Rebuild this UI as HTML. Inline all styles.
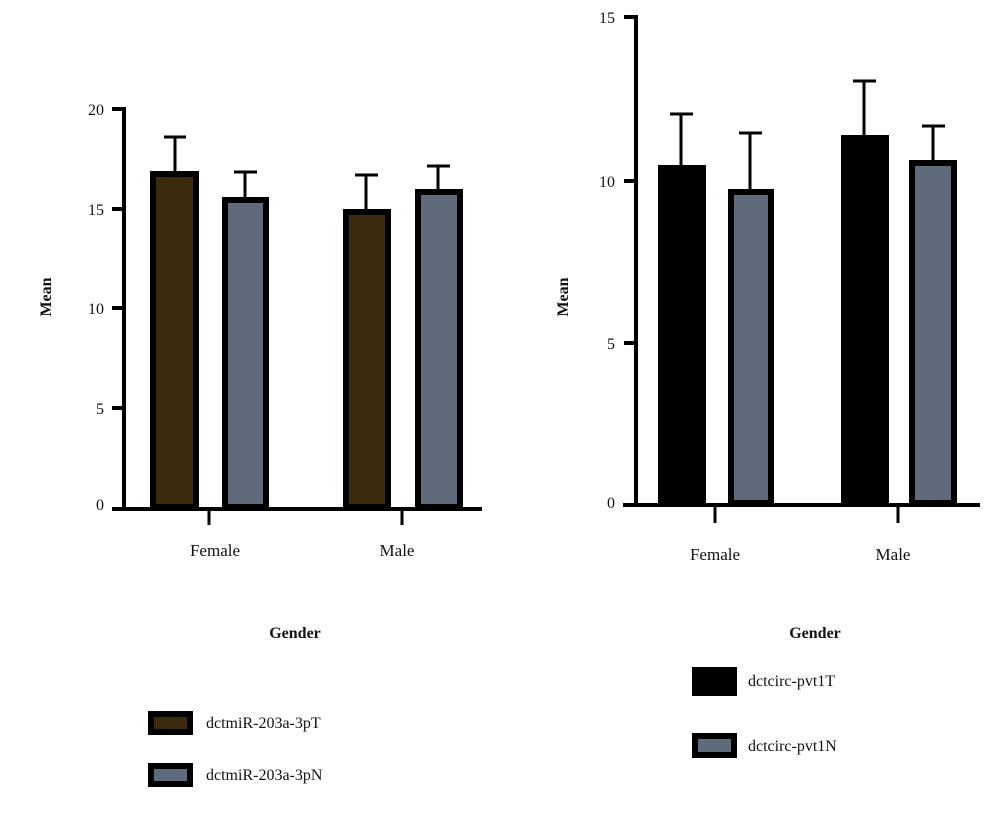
<!DOCTYPE html>
<html><head><style>
body{margin:0;background:#fff}
svg text{font-family:"Liberation Serif",serif;fill:#111}
</style></head><body>
<svg width="1000" height="811" viewBox="0 0 1000 811" xmlns="http://www.w3.org/2000/svg">
<g stroke="#000" stroke-width="4" fill="none">
<line x1="124" y1="107" x2="124" y2="510"/>
<line x1="112" y1="509" x2="482" y2="509"/>
<line x1="112" y1="109" x2="124" y2="109"/>
<line x1="112" y1="209" x2="124" y2="209"/>
<line x1="112" y1="308" x2="124" y2="308"/>
<line x1="112" y1="408" x2="124" y2="408"/>
<line x1="209" y1="509" x2="209" y2="525" stroke-width="3"/>
<line x1="402" y1="509" x2="402" y2="525" stroke-width="3"/>
<line x1="636" y1="15" x2="636" y2="507"/>
<line x1="623" y1="505" x2="980" y2="505"/>
<line x1="624" y1="17" x2="636" y2="17"/>
<line x1="624" y1="181" x2="636" y2="181"/>
<line x1="624" y1="343" x2="636" y2="343"/>
<line x1="715" y1="505" x2="715" y2="523" stroke-width="3"/>
<line x1="898" y1="505" x2="898" y2="523" stroke-width="3"/>
</g>
<g stroke="#000" stroke-width="3">
<line x1="175" y1="172" x2="175" y2="137"/><line x1="164" y1="137" x2="186" y2="137"/>
<line x1="245" y1="198" x2="245" y2="172"/><line x1="234" y1="172" x2="257" y2="172"/>
<line x1="366" y1="210" x2="366" y2="175"/><line x1="355" y1="175" x2="378" y2="175"/>
<line x1="438" y1="190" x2="438" y2="166"/><line x1="427" y1="166" x2="450" y2="166"/>
<line x1="681" y1="166" x2="681" y2="114"/><line x1="670" y1="114" x2="693" y2="114"/>
<line x1="750" y1="190" x2="750" y2="133"/><line x1="739" y1="133" x2="762" y2="133"/>
<line x1="864" y1="136" x2="864" y2="81"/><line x1="853" y1="81" x2="876" y2="81"/>
<line x1="933" y1="161" x2="933" y2="126"/><line x1="922" y1="126" x2="945" y2="126"/>
</g>
<g stroke="#000" stroke-width="6">
<rect x="153" y="174" width="43" height="333" fill="#3b2a0e"/>
<rect x="225" y="200" width="41" height="307" fill="#5f6b7a"/>
<rect x="346" y="212" width="42" height="295" fill="#3b2a0e"/>
<rect x="418" y="192" width="42" height="315" fill="#5f6b7a"/>
<rect x="661" y="168" width="42" height="335" fill="#000"/>
<rect x="731" y="192" width="40" height="311" fill="#5f6b7a"/>
<rect x="844" y="138" width="42" height="365" fill="#000"/>
<rect x="912" y="163" width="42" height="340" fill="#5f6b7a"/>
<rect x="151" y="714" width="39" height="18" fill="#3b2a0e"/>
<rect x="151" y="766" width="39" height="18" fill="#5f6b7a"/>
<rect x="695" y="670" width="39" height="23" fill="#000"/>
<rect x="695" y="736" width="39" height="19" fill="#5f6b7a"/>
</g>
<g font-size="16" text-anchor="end">
<text x="104" y="115">20</text><text x="104" y="215">15</text><text x="104" y="314">10</text>
<text x="104" y="414">5</text><text x="104" y="510">0</text>
<text x="615" y="23">15</text><text x="615" y="187">10</text><text x="615" y="349">5</text><text x="615" y="508">0</text>
</g>
<g font-size="17" text-anchor="middle">
<text x="215" y="556">Female</text><text x="397" y="556">Male</text>
<text x="715" y="560">Female</text><text x="893" y="560">Male</text>
</g>
<g font-size="16" font-weight="bold" text-anchor="middle">
<text x="295" y="638">Gender</text><text x="815" y="638">Gender</text>
<text transform="translate(51,297) rotate(-90)">Mean</text>
<text transform="translate(568,297) rotate(-90)">Mean</text>
</g>
<g font-size="16">
<text x="206" y="728">dctmiR-203a-3pT</text>
<text x="206" y="780">dctmiR-203a-3pN</text>
<text x="748" y="686">dctcirc-pvt1T</text>
<text x="748" y="751">dctcirc-pvt1N</text>
</g>
</svg>
</body></html>
